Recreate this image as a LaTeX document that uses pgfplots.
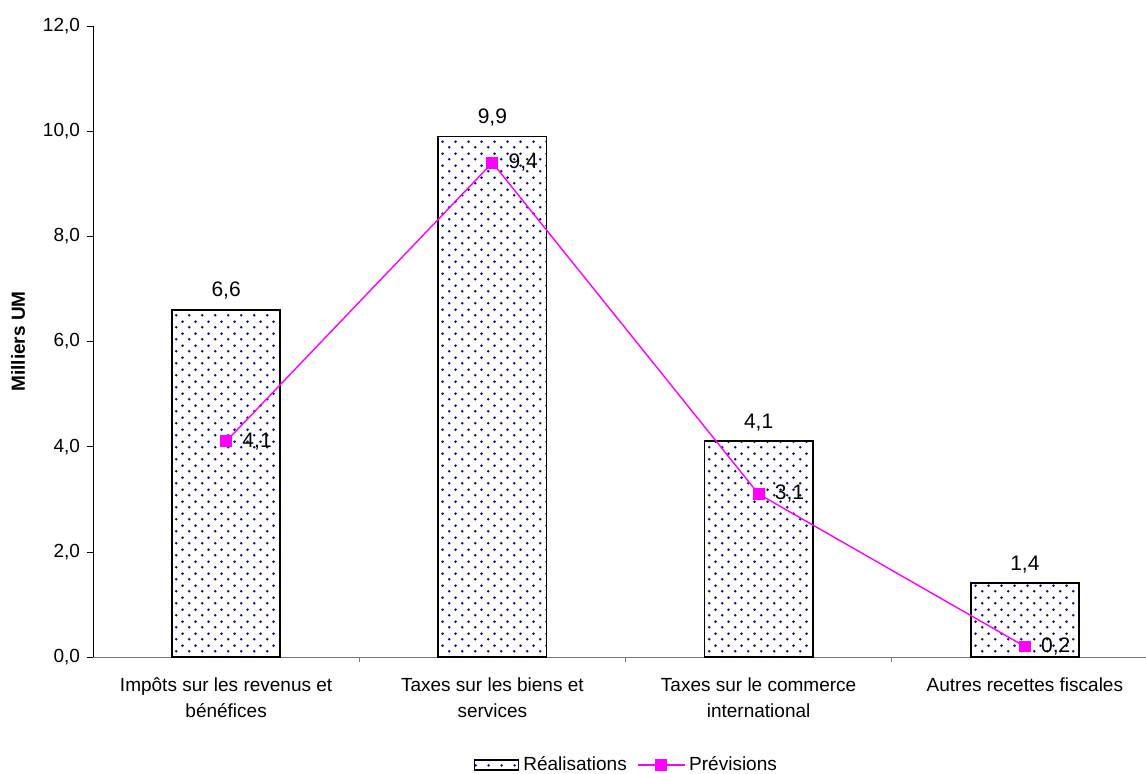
\documentclass[border=0pt]{standalone}
\usepackage{fontspec}
\setmainfont{Liberation Sans}
\usepackage{pgfplots}
\pgfplotsset{compat=1.18}
\usetikzlibrary{patterns}

\definecolor{dotblue}{RGB}{10,10,140}
\definecolor{prevmag}{RGB}{255,0,255}
\definecolor{axgray}{RGB}{120,120,120}

% staggered dot fill for the bars
\pgfdeclarepatternformonly{sparsedots}{\pgfpointorigin}{\pgfqpoint{6.67pt}{6pt}}{\pgfqpoint{6.67pt}{6pt}}{%
  \pgfpathcircle{\pgfqpoint{1.67pt}{1.5pt}}{0.75pt}%
  \pgfpathcircle{\pgfqpoint{5pt}{4.5pt}}{0.75pt}%
  \pgfusepath{fill}}

\begin{document}
\begin{tikzpicture}[font=\fontsize{9.5}{11.4}\selectfont]
\begin{axis}[
  scale only axis,
  width=526.5pt, height=315.5pt,
  xmin=-0.5, xmax=3.455,
  ymin=0, ymax=12,
  axis x line=bottom, axis y line=left,
  axis line style={-},
  x axis line style={axgray},
  y axis line style={black},
  xtick={0,1,2,3},
  xticklabels={Impôts sur les revenus et\\bénéfices,
               Taxes sur les biens et\\services,
               Taxes sur le commerce\\international,
               Autres recettes fiscales},
  xticklabel style={align=center, text=black, yshift=-4pt,
                    font=\fontsize{9.5}{13}\selectfont},
  minor xtick={0.5,1.5,2.5},
  major x tick style={draw=none},
  minor x tick style={axgray, line width=0.4pt},
  minor tick length=2.5pt,
  ytick={0,2,...,12},
  ytick style={black},
  major tick length=3pt,
  tick align=outside,
  /pgf/number format/assume math mode=true,
  /pgf/number format/use comma,
  /pgf/number format/fixed,
  /pgf/number format/fixed zerofill,
  /pgf/number format/precision=1,
  ylabel={\bfseries Milliers UM},
  ylabel style={at={(axis description cs:-0.0712,0.5)}, anchor=center},
  legend style={at={(0.5,0)}, anchor=center, xshift=4pt, yshift=-54pt, draw=none,
                legend columns=2, fill=none,
                /tikz/every even column/.append style={column sep=3pt}},
  legend cell align=left,
  clip=false,
]
% Réalisations
\addplot[ybar, bar width=0.406, draw=black, line width=0.9pt,
  pattern=sparsedots, pattern color=dotblue,
  nodes near coords,
  every node near coord/.append style={anchor=south, yshift=1.5pt, text=black,
                                       font=\fontsize{10.5}{12.6}\selectfont},
  legend image code/.code={\draw[black, line width=0.6pt, pattern=sparsedots, pattern color=dotblue] (0pt,-2.5pt) rectangle (22pt,2.5pt);}]
  coordinates {(0,6.6) (1,9.9) (2,4.1) (3,1.4)};
\addlegendentry{Réalisations}
% Prévisions
\addplot[prevmag, line width=0.7pt, mark=square*, mark size=2.6pt,
  mark options={solid, fill=prevmag, draw=prevmag},
  nodes near coords,
  every node near coord/.append style={anchor=west, xshift=4.5pt, yshift=0pt, text=black,
                                       font=\fontsize{10.5}{12.6}\selectfont},
  legend image code/.code={\draw[prevmag, line width=0.7pt] (0pt,0pt) -- (23.5pt,0pt);
    \fill[prevmag] (9.15pt,-2.6pt) rectangle (14.35pt,2.6pt);}]
  coordinates {(0,4.1) (1,9.4) (2,3.1) (3,0.2)};
\addlegendentry{Prévisions}
\end{axis}
\pgfresetboundingbox
\path[use as bounding box] ([xshift=-46.5pt,yshift=-58.5pt]current axis.south west) rectangle ([yshift=13pt]current axis.north east);
\end{tikzpicture}
\end{document}
